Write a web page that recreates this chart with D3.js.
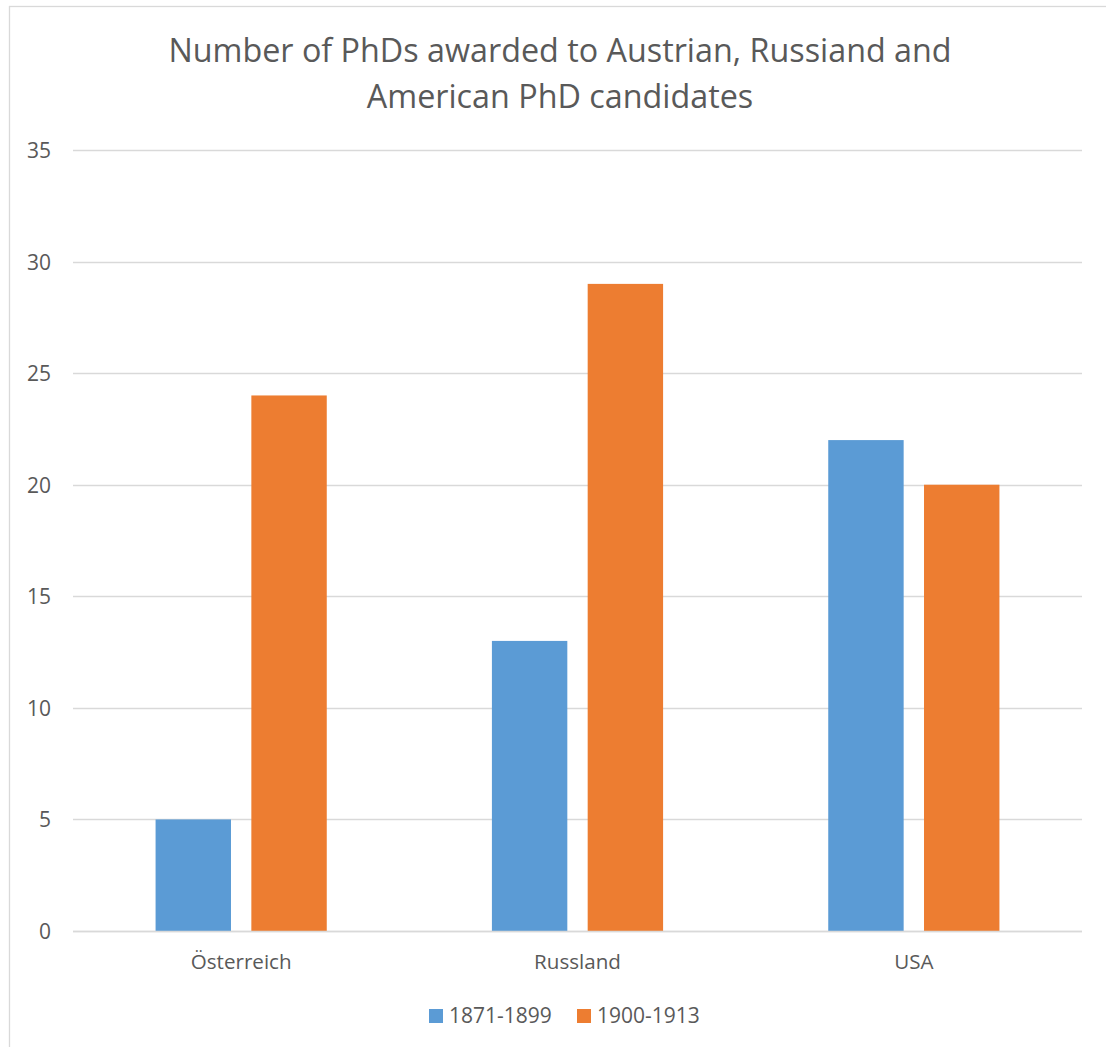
<!DOCTYPE html>
<html>
<head>
<meta charset="utf-8">
<script src="https://cdn.jsdelivr.net/npm/d3@7"></script>
<style>
  html, body { margin: 0; padding: 0; background: #fff; }
  svg { display: block; }
  text { font-family: "Open Sans", Lato, sans-serif; fill: #595959; }
</style>
</head>
<body>
<svg id="chart" width="1106" height="1047"></svg>
<script>
// Countries on the category axis
const categories = ["Österreich", "Russland", "USA"];
// Series names as shown in the legend
const seriesNames = ["1871-1899", "1900-1913"];
// PhDs awarded per period
const values1871 = [5, 13, 22];
const values1900 = [24, 29, 20];
// Value axis ticks
const yTicks = [0, 5, 10, 15, 20, 25, 30, 35];
const titleLines = ["Number of PhDs awarded to Austrian, Russiand and", "American PhD candidates"];

const colors = ["#5b9bd5", "#ed7d31"];
const seriesValues = [values1871, values1900];
const FONT = "'Open Sans', Lato, sans-serif";

const svg = d3.select("#chart");
const W = 1106, H = 1047;

// chart frame (right and bottom edges sit outside the visible page)
svg.append("rect")
  .attr("x", 9.5).attr("y", 6.5)
  .attr("width", W + 20).attr("height", H + 20)
  .attr("fill", "#fff")
  .attr("stroke", "#d9d9d9")
  .attr("stroke-width", 1.3);

const plot = { left: 73, right: 1082, top: 150, bottom: 931 };

const x = d3.scaleBand()
  .domain(categories)
  .range([plot.left, plot.right])
  .padding(0);

const y = d3.scaleLinear()
  .domain([0, 35])
  .range([plot.bottom, plot.top]);

// gap width 219%, overlap -27%
const gapWidth = 2.19, overlap = -0.27;
const barW = x.bandwidth() / (2 - overlap + gapWidth);
const groupW = barW * (2 - overlap);

// gridlines
svg.append("g")
  .selectAll("line")
  .data(yTicks)
  .join("line")
  .attr("x1", plot.left)
  .attr("x2", plot.right)
  .attr("y1", d => Math.round(y(d)) + 0.5)
  .attr("y2", d => Math.round(y(d)) + 0.5)
  .attr("stroke", "#d9d9d9")
  .attr("stroke-width", 1.4);

// y axis labels
const yAxis = d3.axisLeft(y).tickValues(yTicks).tickSize(0).tickPadding(0);
const yg = svg.append("g")
  .attr("transform", `translate(51,0)`)
  .call(yAxis);
yg.select(".domain").remove();
yg.selectAll("text")
  .attr("font-size", 21)
  .attr("fill", "#595959")
  .attr("font-family", FONT)
  .attr("dy", "0.36em");

// bars
seriesValues.forEach((vals, si) => {
  svg.append("g")
    .selectAll("rect")
    .data(categories.map((c, i) => ({ c, v: vals[i] })))
    .join("rect")
    .attr("x", d => x(d.c) + (x.bandwidth() - groupW) / 2 + si * barW * (1 - overlap))
    .attr("y", d => y(d.v))
    .attr("width", barW)
    .attr("height", d => y(0) - y(d.v))
    .attr("fill", colors[si]);
});

// redraw baseline on top of bars
svg.append("line")
  .attr("x1", plot.left).attr("x2", plot.right)
  .attr("y1", Math.round(y(0)) + 0.5).attr("y2", Math.round(y(0)) + 0.5)
  .attr("stroke", "#d9d9d9").attr("stroke-width", 1.4);

// category labels
const xAxis = d3.axisBottom(x).tickSize(0).tickPadding(0);
const xg = svg.append("g")
  .attr("transform", `translate(0,${plot.bottom})`)
  .call(xAxis);
xg.select(".domain").remove();
xg.selectAll("text")
  .attr("font-size", 20.6)
  .attr("fill", "#595959")
  .attr("font-family", FONT)
  .attr("dy", null)
  .attr("y", 38);

// title
svg.append("text")
  .attr("text-anchor", "middle")
  .attr("font-size", 32.3)
  .selectAll("tspan")
  .data(titleLines)
  .join("tspan")
  .attr("x", 560)
  .attr("y", (d, i) => 62 + i * 46)
  .text(d => d);

// legend
const legend = svg.append("g");
const legendX = [429, 577];
seriesNames.forEach((name, i) => {
  legend.append("rect")
    .attr("x", legendX[i]).attr("y", 1009)
    .attr("width", 14).attr("height", 14)
    .attr("fill", colors[i]);
  legend.append("text")
    .attr("x", legendX[i] + 20).attr("y", 1023)
    .attr("font-size", 21)
    .text(name);
});
</script>
</body>
</html>
